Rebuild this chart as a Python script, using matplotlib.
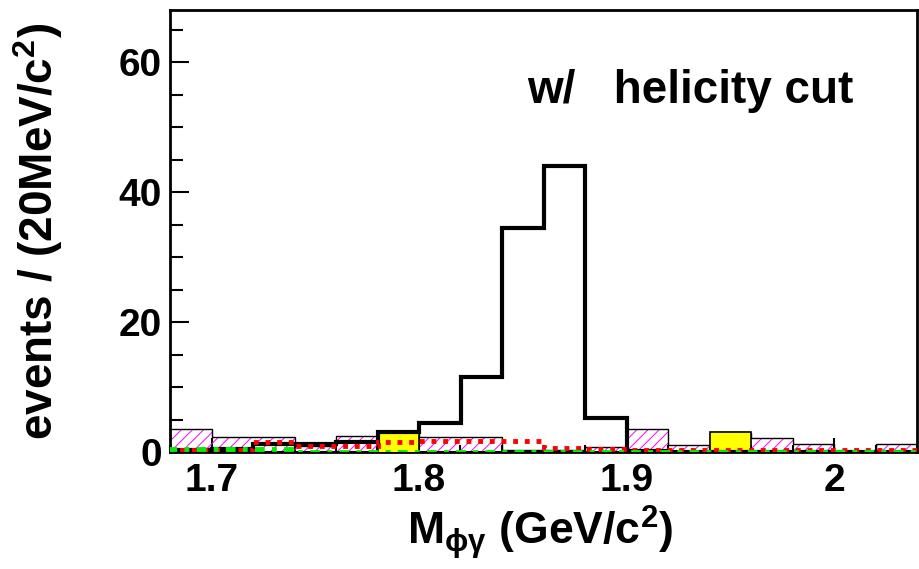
"""M(phi gamma) spectrum with helicity cut, ROOT-style histogram stack."""
import numpy as np
import matplotlib
matplotlib.use('Agg')
import matplotlib.pyplot as plt
from matplotlib.ticker import MultipleLocator, FixedLocator

plt.rcParams['font.family'] = ['Liberation Sans', 'DejaVu Sans']
plt.rcParams['font.weight'] = 'bold'
plt.rcParams['mathtext.fontset'] = 'custom'
plt.rcParams['mathtext.rm'] = 'Liberation Sans:bold'
plt.rcParams['mathtext.it'] = 'Liberation Sans:bold'
plt.rcParams['mathtext.bf'] = 'Liberation Sans:bold'
plt.rcParams['hatch.linewidth'] = 0.7

# ─── Data (bins of 20 MeV from 1.68 to 2.04) ───
edges = np.round(np.arange(1.68, 2.0401, 0.02), 2)
data_evts  = [0.3, 0.5, 1.2, 1.2, 1.6, 3.1, 4.5, 11.5, 34.5, 44.0, 5.2, 0.2, 0.0, 0.0, 0.0, 0.0, 0.0, 0.0]
sideband   = [3.6, 2.3, 2.3, 1.0, 2.4, 3.0, 2.3, 2.3, 0.3, 0.3, 0.8, 3.5, 1.1, 3.0, 2.1, 1.2, 0.0, 1.2]
bkg_yellow = [0.0, 0.0, 0.0, 0.0, 0.0, 3.1, 0.0, 0.0, 0.0, 0.0, 0.0, 0.0, 0.0, 3.1, 0.0, 0.0, 0.0, 0.0]
mc_red     = [0.3, 0.3, 1.5, 1.0, 1.0, 1.6, 1.75, 1.75, 1.7, 0.6, 0.4, 0.3, 0.3, 0.3, 0.3, 0.3, 0.3, 0.3]
mc_green   = [0.5, 0.5, 0.5, 0.05, 0.05, 0.05, 0.05, 0.05, 0.05, 0.05, 0.05, 0.05, 0.05, 0.05, 0.05, 0.05, 0.05, 0.05]

x_ticks = [1.7, 1.8, 1.9, 2.0]
x_ticklabels = ['1.7', '1.8', '1.9', '2']
y_ticks = [0, 20, 40, 60]

fig = plt.figure(figsize=(9.19, 5.69), dpi=100)
ax = fig.add_axes([170 / 919, 1 - 452 / 569, 747 / 919, 442 / 569])

# hatched sideband histogram
ax.stairs(sideband, edges, fill=True, facecolor='none', edgecolor='#ff00ff',
          hatch='///', linewidth=0, zorder=2)
ax.stairs(sideband, edges, color='black', linewidth=1.0, zorder=2.1)
# yellow filled histogram
ax.stairs(bkg_yellow, edges, fill=True, facecolor='#ffff00', edgecolor='none', zorder=3)
ax.stairs(bkg_yellow, edges, color='black', linewidth=1.2, zorder=3.1)
# data
ax.stairs(data_evts, edges, color='black', linewidth=3.0, zorder=4)
# MC curves
ax.stairs(mc_red, edges, color='#ff0000', linewidth=3.5, linestyle=(0, (1, 1.4)), zorder=5)
ax.stairs(mc_green, edges, color='#00ee00', linewidth=3.5, linestyle=(0, (2, 1.5, 1, 1.5)), zorder=6)

ax.set_xlim(1.68, 2.04)
ax.set_ylim(0, 68)
ax.xaxis.set_major_locator(FixedLocator(x_ticks))
ax.set_xticklabels(x_ticklabels)
ax.xaxis.set_minor_locator(MultipleLocator(0.02))
ax.set_yticks(y_ticks)
ax.yaxis.set_minor_locator(MultipleLocator(5))

ax.tick_params(axis='both', which='both', direction='in', top=False, right=False,
               width=1.5, labelsize=28)
ax.tick_params(axis='y', which='major', length=14, pad=6)
ax.tick_params(axis='y', which='minor', length=9)
ax.tick_params(axis='x', which='major', length=10, pad=8)
ax.tick_params(axis='x', which='minor', length=5)
for lbl in ax.get_xticklabels() + ax.get_yticklabels():
    lbl.set_fontweight('bold')
for s in ax.spines.values():
    s.set_linewidth(2.0)

ax.set_xlabel(r'M$_{\phi\gamma}$ (GeV/c$^{2}$)', fontsize=32, fontweight='bold')
ax.xaxis.set_label_coords(0.495, -0.115)
ax.set_ylabel(r'events / (20MeV/c$^{2}$)', fontsize=33, fontweight='bold')
ax.yaxis.set_label_coords(-0.14, 0.5)

ax.text(0.478, 0.79, 'w/   helicity cut', transform=ax.transAxes,
        fontsize=33, fontweight='bold', ha='left', va='baseline')

fig.savefig('out.png', dpi=100)
